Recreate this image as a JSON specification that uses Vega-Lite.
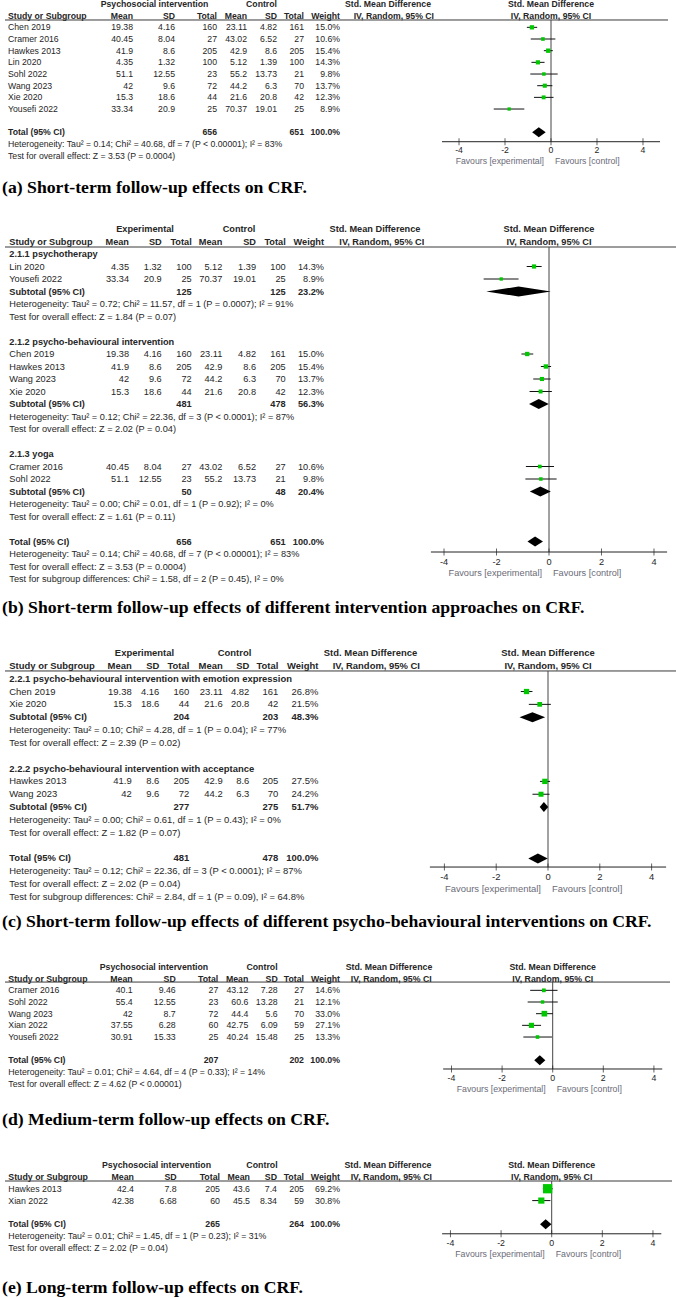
{
  "$schema": "https://vega.github.io/schema/vega-lite/v6.json",
  "width": 676,
  "height": 1298,
  "autosize": {"type": "none"},
  "padding": 0,
  "background": "white",
  "config": {
    "view": {"stroke": null},
    "font": "Liberation Sans",
    "axis": {"disable": true},
    "legend": {"disable": true},
    "text": {"color": "#262626"}
  },
  "datasets": {
    "hPsy": [
      {"r": 0, "c": 10, "t": "Psychosocial intervention"}, {"r": 0, "c": 11, "t": "Control"}, {"r": 0, "c": 12, "t": "Std. Mean Difference"},
      {"r": 1, "c": 1, "t": "Study or Subgroup"}, {"r": 1, "c": 2, "t": "Mean"}, {"r": 1, "c": 3, "t": "SD"}, {"r": 1, "c": 4, "t": "Total"},
      {"r": 1, "c": 5, "t": "Mean"}, {"r": 1, "c": 6, "t": "SD"}, {"r": 1, "c": 7, "t": "Total"}, {"r": 1, "c": 8, "t": "Weight"}, {"r": 1, "c": 9, "t": "IV, Random, 95% CI"}
    ],
    "hExp": [
      {"r": 0, "c": 10, "t": "Experimental"}, {"r": 0, "c": 11, "t": "Control"}, {"r": 0, "c": 12, "t": "Std. Mean Difference"},
      {"r": 1, "c": 1, "t": "Study or Subgroup"}, {"r": 1, "c": 2, "t": "Mean"}, {"r": 1, "c": 3, "t": "SD"}, {"r": 1, "c": 4, "t": "Total"},
      {"r": 1, "c": 5, "t": "Mean"}, {"r": 1, "c": 6, "t": "SD"}, {"r": 1, "c": 7, "t": "Total"}, {"r": 1, "c": 8, "t": "Weight"}, {"r": 1, "c": 9, "t": "IV, Random, 95% CI"}
    ],
    "fh": [{"r": 0, "t": "Std. Mean Difference"}, {"r": 1, "t": "IV, Random, 95% CI"}],
    "fav": [{"t": "Favours [experimental]", "side": "exp"}, {"t": "Favours [control]", "side": "ctrl"}],
    "ticks": [{"v": -4}, {"v": -2}, {"v": 0}, {"v": 2}, {"v": 4}],
    "one": [{}],
    "cap": [
      {"p": "a", "t": "(a) Short-term follow-up effects on CRF."},
      {"p": "b", "t": "(b) Short-term follow-up effects of different intervention approaches on CRF."},
      {"p": "c", "t": "(c) Short-term follow-up effects of different psycho-behavioural interventions on CRF."},
      {"p": "d", "t": "(d) Medium-term follow-up effects on CRF."},
      {"p": "e", "t": "(e) Long-term follow-up effects on CRF."}
    ],
    "a": [
      {"r": 2, "k": "study", "name": "Chen 2019", "m1": 19.38, "sd1": 4.16, "n1": 160, "m2": 23.11, "sd2": 4.82, "n2": 161, "w": 0.150, "ci": "-0.83 [-1.05, -0.60]", "smd": -0.83, "lo": -1.05, "hi": -0.60},
      {"r": 3, "k": "study", "name": "Cramer 2016", "m1": 40.45, "sd1": 8.04, "n1": 27, "m2": 43.02, "sd2": 6.52, "n2": 27, "w": 0.106, "ci": "-0.35 [-0.88, 0.19]", "smd": -0.35, "lo": -0.88, "hi": 0.19},
      {"r": 4, "k": "study", "name": "Hawkes 2013", "m1": 41.9, "sd1": 8.6, "n1": 205, "m2": 42.9, "sd2": 8.6, "n2": 205, "w": 0.154, "ci": "-0.12 [-0.31, 0.08]", "smd": -0.12, "lo": -0.31, "hi": 0.08},
      {"r": 5, "k": "study", "name": "Lin 2020", "m1": 4.35, "sd1": 1.32, "n1": 100, "m2": 5.12, "sd2": 1.39, "n2": 100, "w": 0.143, "ci": "-0.57 [-0.85, -0.28]", "smd": -0.57, "lo": -0.85, "hi": -0.28},
      {"r": 6, "k": "study", "name": "Sohl 2022", "m1": 51.1, "sd1": 12.55, "n1": 23, "m2": 55.2, "sd2": 13.73, "n2": 21, "w": 0.098, "ci": "-0.31 [-0.90, 0.29]", "smd": -0.31, "lo": -0.90, "hi": 0.29},
      {"r": 7, "k": "study", "name": "Wang 2023", "m1": 42, "sd1": 9.6, "n1": 72, "m2": 44.2, "sd2": 6.3, "n2": 70, "w": 0.137, "ci": "-0.27 [-0.60, 0.06]", "smd": -0.27, "lo": -0.60, "hi": 0.06},
      {"r": 8, "k": "study", "name": "Xie 2020", "m1": 15.3, "sd1": 18.6, "n1": 44, "m2": 21.6, "sd2": 20.8, "n2": 42, "w": 0.123, "ci": "-0.32 [-0.74, 0.11]", "smd": -0.32, "lo": -0.74, "hi": 0.11},
      {"r": 9, "k": "study", "name": "Yousefi 2022", "m1": 33.34, "sd1": 20.9, "n1": 25, "m2": 70.37, "sd2": 19.01, "n2": 25, "w": 0.089, "ci": "-1.82 [-2.49, -1.16]", "smd": -1.82, "lo": -2.49, "hi": -1.16},
      {"r": 11, "k": "total", "name": "Total (95% CI)", "n1": 656, "n2": 651, "w": 1, "ci": "-0.53 [-0.82, -0.23]", "smd": -0.53, "lo": -0.82, "hi": -0.23},
      {"r": 12, "k": "note", "name": "Heterogeneity: Tau² = 0.14; Chi² = 40.68, df = 7 (P < 0.00001); I² = 83%"},
      {"r": 13, "k": "note", "name": "Test for overall effect: Z = 3.53 (P = 0.0004)"}
    ],
    "b": [
      {"r": 2, "k": "group", "name": "2.1.1 psychotherapy"},
      {"r": 3, "k": "study", "name": "Lin 2020", "m1": 4.35, "sd1": 1.32, "n1": 100, "m2": 5.12, "sd2": 1.39, "n2": 100, "w": 0.143, "ci": "-0.57 [-0.85, -0.28]", "smd": -0.57, "lo": -0.85, "hi": -0.28},
      {"r": 4, "k": "study", "name": "Yousefi 2022", "m1": 33.34, "sd1": 20.9, "n1": 25, "m2": 70.37, "sd2": 19.01, "n2": 25, "w": 0.089, "ci": "-1.82 [-2.49, -1.16]", "smd": -1.82, "lo": -2.49, "hi": -1.16},
      {"r": 5, "k": "sub", "name": "Subtotal (95% CI)", "n1": 125, "n2": 125, "w": 0.232, "ci": "-1.16 [-2.39, 0.07]", "smd": -1.16, "lo": -2.39, "hi": 0.07},
      {"r": 6, "k": "note", "name": "Heterogeneity: Tau² = 0.72; Chi² = 11.57, df = 1 (P = 0.0007); I² = 91%"},
      {"r": 7, "k": "note", "name": "Test for overall effect: Z = 1.84 (P = 0.07)"},
      {"r": 9, "k": "group", "name": "2.1.2 psycho-behavioural intervention"},
      {"r": 10, "k": "study", "name": "Chen 2019", "m1": 19.38, "sd1": 4.16, "n1": 160, "m2": 23.11, "sd2": 4.82, "n2": 161, "w": 0.150, "ci": "-0.83 [-1.05, -0.60]", "smd": -0.83, "lo": -1.05, "hi": -0.60},
      {"r": 11, "k": "study", "name": "Hawkes 2013", "m1": 41.9, "sd1": 8.6, "n1": 205, "m2": 42.9, "sd2": 8.6, "n2": 205, "w": 0.154, "ci": "-0.12 [-0.31, 0.08]", "smd": -0.12, "lo": -0.31, "hi": 0.08},
      {"r": 12, "k": "study", "name": "Wang 2023", "m1": 42, "sd1": 9.6, "n1": 72, "m2": 44.2, "sd2": 6.3, "n2": 70, "w": 0.137, "ci": "-0.27 [-0.60, 0.06]", "smd": -0.27, "lo": -0.60, "hi": 0.06},
      {"r": 13, "k": "study", "name": "Xie 2020", "m1": 15.3, "sd1": 18.6, "n1": 44, "m2": 21.6, "sd2": 20.8, "n2": 42, "w": 0.123, "ci": "-0.32 [-0.74, 0.11]", "smd": -0.32, "lo": -0.74, "hi": 0.11},
      {"r": 14, "k": "sub", "name": "Subtotal (95% CI)", "n1": 481, "n2": 478, "w": 0.563, "ci": "-0.39 [-0.76, -0.01]", "smd": -0.39, "lo": -0.76, "hi": -0.01},
      {"r": 15, "k": "note", "name": "Heterogeneity: Tau² = 0.12; Chi² = 22.36, df = 3 (P < 0.0001); I² = 87%"},
      {"r": 16, "k": "note", "name": "Test for overall effect: Z = 2.02 (P = 0.04)"},
      {"r": 18, "k": "group", "name": "2.1.3 yoga"},
      {"r": 19, "k": "study", "name": "Cramer 2016", "m1": 40.45, "sd1": 8.04, "n1": 27, "m2": 43.02, "sd2": 6.52, "n2": 27, "w": 0.106, "ci": "-0.35 [-0.88, 0.19]", "smd": -0.35, "lo": -0.88, "hi": 0.19},
      {"r": 20, "k": "study", "name": "Sohl 2022", "m1": 51.1, "sd1": 12.55, "n1": 23, "m2": 55.2, "sd2": 13.73, "n2": 21, "w": 0.098, "ci": "-0.31 [-0.90, 0.29]", "smd": -0.31, "lo": -0.90, "hi": 0.29},
      {"r": 21, "k": "sub", "name": "Subtotal (95% CI)", "n1": 50, "n2": 48, "w": 0.204, "ci": "-0.33 [-0.73, 0.07]", "smd": -0.33, "lo": -0.73, "hi": 0.07},
      {"r": 22, "k": "note", "name": "Heterogeneity: Tau² = 0.00; Chi² = 0.01, df = 1 (P = 0.92); I² = 0%"},
      {"r": 23, "k": "note", "name": "Test for overall effect: Z = 1.61 (P = 0.11)"},
      {"r": 25, "k": "total", "name": "Total (95% CI)", "n1": 656, "n2": 651, "w": 1, "ci": "-0.53 [-0.82, -0.23]", "smd": -0.53, "lo": -0.82, "hi": -0.23},
      {"r": 26, "k": "note", "name": "Heterogeneity: Tau² = 0.14; Chi² = 40.68, df = 7 (P < 0.00001); I² = 83%"},
      {"r": 27, "k": "note", "name": "Test for overall effect: Z = 3.53 (P = 0.0004)"},
      {"r": 28, "k": "note", "name": "Test for subgroup differences: Chi² = 1.58, df = 2 (P = 0.45), I² = 0%"}
    ],
    "c": [
      {"r": 2, "k": "group", "name": "2.2.1 psycho-behavioural intervention with emotion expression"},
      {"r": 3, "k": "study", "name": "Chen 2019", "m1": 19.38, "sd1": 4.16, "n1": 160, "m2": 23.11, "sd2": 4.82, "n2": 161, "w": 0.268, "ci": "-0.83 [-1.05, -0.60]", "smd": -0.83, "lo": -1.05, "hi": -0.60},
      {"r": 4, "k": "study", "name": "Xie 2020", "m1": 15.3, "sd1": 18.6, "n1": 44, "m2": 21.6, "sd2": 20.8, "n2": 42, "w": 0.215, "ci": "-0.32 [-0.74, 0.11]", "smd": -0.32, "lo": -0.74, "hi": 0.11},
      {"r": 5, "k": "sub", "name": "Subtotal (95% CI)", "n1": 204, "n2": 203, "w": 0.483, "ci": "-0.60 [-1.10, -0.11]", "smd": -0.60, "lo": -1.10, "hi": -0.11},
      {"r": 6, "k": "note", "name": "Heterogeneity: Tau² = 0.10; Chi² = 4.28, df = 1 (P = 0.04); I² = 77%"},
      {"r": 7, "k": "note", "name": "Test for overall effect: Z = 2.39 (P = 0.02)"},
      {"r": 9, "k": "group", "name": "2.2.2 psycho-behavioural intervention with acceptance"},
      {"r": 10, "k": "study", "name": "Hawkes 2013", "m1": 41.9, "sd1": 8.6, "n1": 205, "m2": 42.9, "sd2": 8.6, "n2": 205, "w": 0.275, "ci": "-0.12 [-0.31, 0.08]", "smd": -0.12, "lo": -0.31, "hi": 0.08},
      {"r": 11, "k": "study", "name": "Wang 2023", "m1": 42, "sd1": 9.6, "n1": 72, "m2": 44.2, "sd2": 6.3, "n2": 70, "w": 0.242, "ci": "-0.27 [-0.60, 0.06]", "smd": -0.27, "lo": -0.60, "hi": 0.06},
      {"r": 12, "k": "sub", "name": "Subtotal (95% CI)", "n1": 277, "n2": 275, "w": 0.517, "ci": "-0.16 [-0.32, 0.01]", "smd": -0.16, "lo": -0.32, "hi": 0.01},
      {"r": 13, "k": "note", "name": "Heterogeneity: Tau² = 0.00; Chi² = 0.61, df = 1 (P = 0.43); I² = 0%"},
      {"r": 14, "k": "note", "name": "Test for overall effect: Z = 1.82 (P = 0.07)"},
      {"r": 16, "k": "total", "name": "Total (95% CI)", "n1": 481, "n2": 478, "w": 1, "ci": "-0.39 [-0.76, -0.01]", "smd": -0.39, "lo": -0.76, "hi": -0.01},
      {"r": 17, "k": "note", "name": "Heterogeneity: Tau² = 0.12; Chi² = 22.36, df = 3 (P < 0.0001); I² = 87%"},
      {"r": 18, "k": "note", "name": "Test for overall effect: Z = 2.02 (P = 0.04)"},
      {"r": 19, "k": "note", "name": "Test for subgroup differences: Chi² = 2.84, df = 1 (P = 0.09), I² = 64.8%"}
    ],
    "d": [
      {"r": 2, "k": "study", "name": "Cramer 2016", "m1": 40.1, "sd1": 9.46, "n1": 27, "m2": 43.12, "sd2": 7.28, "n2": 27, "w": 0.146, "ci": "-0.35 [-0.89, 0.19]", "smd": -0.35, "lo": -0.89, "hi": 0.19},
      {"r": 3, "k": "study", "name": "Sohl 2022", "m1": 55.4, "sd1": 12.55, "n1": 23, "m2": 60.6, "sd2": 13.28, "n2": 21, "w": 0.121, "ci": "-0.40 [-0.99, 0.20]", "smd": -0.40, "lo": -0.99, "hi": 0.20},
      {"r": 4, "k": "study", "name": "Wang 2023", "m1": 42, "sd1": 8.7, "n1": 72, "m2": 44.4, "sd2": 5.6, "n2": 70, "w": 0.330, "ci": "-0.33 [-0.66, 0.01]", "smd": -0.33, "lo": -0.66, "hi": 0.01},
      {"r": 5, "k": "study", "name": "Xian 2022", "m1": 37.55, "sd1": 6.28, "n1": 60, "m2": 42.75, "sd2": 6.09, "n2": 59, "w": 0.271, "ci": "-0.84 [-1.21, -0.46]", "smd": -0.84, "lo": -1.21, "hi": -0.46},
      {"r": 6, "k": "study", "name": "Yousefi 2022", "m1": 30.91, "sd1": 15.33, "n1": 25, "m2": 40.24, "sd2": 15.48, "n2": 25, "w": 0.133, "ci": "-0.60 [-1.16, -0.03]", "smd": -0.60, "lo": -1.16, "hi": -0.03},
      {"r": 8, "k": "total", "name": "Total (95% CI)", "n1": 207, "n2": 202, "w": 1, "ci": "-0.51 [-0.73, -0.29]", "smd": -0.51, "lo": -0.73, "hi": -0.29},
      {"r": 9, "k": "note", "name": "Heterogeneity: Tau² = 0.01; Chi² = 4.64, df = 4 (P = 0.33); I² = 14%"},
      {"r": 10, "k": "note", "name": "Test for overall effect: Z = 4.62 (P < 0.00001)"}
    ],
    "e": [
      {"r": 2, "k": "study", "name": "Hawkes 2013", "m1": 42.4, "sd1": 7.8, "n1": 205, "m2": 43.6, "sd2": 7.4, "n2": 205, "w": 0.692, "ci": "-0.16 [-0.35, 0.04]", "smd": -0.16, "lo": -0.35, "hi": 0.04},
      {"r": 3, "k": "study", "name": "Xian 2022", "m1": 42.38, "sd1": 6.68, "n1": 60, "m2": 45.5, "sd2": 8.34, "n2": 59, "w": 0.308, "ci": "-0.41 [-0.77, -0.05]", "smd": -0.41, "lo": -0.77, "hi": -0.05},
      {"r": 5, "k": "total", "name": "Total (95% CI)", "n1": 265, "n2": 264, "w": 1, "ci": "-0.24 [-0.46, -0.01]", "smd": -0.24, "lo": -0.46, "hi": -0.01},
      {"r": 6, "k": "note", "name": "Heterogeneity: Tau² = 0.01; Chi² = 1.45, df = 1 (P = 0.23); I² = 31%"},
      {"r": 7, "k": "note", "name": "Test for overall effect: Z = 2.02 (P = 0.04)"}
    ]
  },
  "resolve": {"scale": {"x": "independent", "y": "independent", "size": "independent"}},
  "layer": [
    {
      "data": {"name": "a"},
      "resolve": {"scale": {"x": "independent"}},
      "layer": [
        {
          "layer": [
            {"data": {"name": "hPsy"}, "mark": {"type": "text", "fontSize": 8.7, "fontWeight": "bold", "baseline": "middle", "align": {"expr": "datum.c == 1 ? 'left' : datum.c >= 10 ? 'center' : 'right'"}},
             "encoding": {"x": {"field": "c", "type": "quantitative", "scale": {"domain": [0,1,2,3,4,5,6,7,8,9,10,11,12,13], "range": [5,8,133,175,217,247,277,304,340,434,154.5,261.5,388,668], "zero": false, "nice": false}},
                          "y": {"field": "r", "type": "quantitative", "scale": {"domain": [0, 20], "range": [4, 237.4], "zero": false, "nice": false}},
                          "text": {"field": "t"}}},
            {"data": {"name": "one"}, "mark": {"type": "rule", "color": "#3a3a3a"}, "encoding": {"x": {"datum": 0, "type": "quantitative"}, "x2": {"datum": 13}, "y": {"datum": 1.37, "type": "quantitative"}}},
            {"mark": {"type": "text", "fontSize": 8.7, "baseline": "middle", "align": "left", "fontWeight": {"expr": "datum.k == 'study' || datum.k == 'note' ? 'normal' : 'bold'"}}, "encoding": {"x": {"datum": 1, "type": "quantitative"}, "y": {"field": "r", "type": "quantitative"}, "text": {"field": "name"}}},
            {"transform": [{"filter": {"field": "m1", "valid": true}}], "mark": {"type": "text", "fontSize": 8.7, "baseline": "middle", "align": "right"}, "encoding": {"x": {"datum": 2, "type": "quantitative"}, "y": {"field": "r", "type": "quantitative"}, "text": {"field": "m1", "type": "nominal"}}},
            {"transform": [{"filter": {"field": "sd1", "valid": true}}], "mark": {"type": "text", "fontSize": 8.7, "baseline": "middle", "align": "right"}, "encoding": {"x": {"datum": 3, "type": "quantitative"}, "y": {"field": "r", "type": "quantitative"}, "text": {"field": "sd1", "type": "nominal"}}},
            {"transform": [{"filter": {"field": "n1", "valid": true}}], "mark": {"type": "text", "fontSize": 8.7, "baseline": "middle", "align": "right", "fontWeight": {"expr": "datum.k == 'study' || datum.k == 'note' ? 'normal' : 'bold'"}}, "encoding": {"x": {"datum": 4, "type": "quantitative"}, "y": {"field": "r", "type": "quantitative"}, "text": {"field": "n1", "type": "nominal"}}},
            {"transform": [{"filter": {"field": "m2", "valid": true}}], "mark": {"type": "text", "fontSize": 8.7, "baseline": "middle", "align": "right"}, "encoding": {"x": {"datum": 5, "type": "quantitative"}, "y": {"field": "r", "type": "quantitative"}, "text": {"field": "m2", "type": "nominal"}}},
            {"transform": [{"filter": {"field": "sd2", "valid": true}}], "mark": {"type": "text", "fontSize": 8.7, "baseline": "middle", "align": "right"}, "encoding": {"x": {"datum": 6, "type": "quantitative"}, "y": {"field": "r", "type": "quantitative"}, "text": {"field": "sd2", "type": "nominal"}}},
            {"transform": [{"filter": {"field": "n2", "valid": true}}], "mark": {"type": "text", "fontSize": 8.7, "baseline": "middle", "align": "right", "fontWeight": {"expr": "datum.k == 'study' || datum.k == 'note' ? 'normal' : 'bold'"}}, "encoding": {"x": {"datum": 7, "type": "quantitative"}, "y": {"field": "r", "type": "quantitative"}, "text": {"field": "n2", "type": "nominal"}}},
            {"transform": [{"filter": {"field": "w", "valid": true}}], "mark": {"type": "text", "fontSize": 8.7, "baseline": "middle", "align": "right", "fontWeight": {"expr": "datum.k == 'study' || datum.k == 'note' ? 'normal' : 'bold'"}}, "encoding": {"x": {"datum": 8, "type": "quantitative"}, "y": {"field": "r", "type": "quantitative"}, "text": {"field": "w", "type": "quantitative", "format": ".1%"}}},
            {"transform": [{"filter": {"field": "ci", "valid": true}}], "mark": {"type": "text", "fontSize": 8.7, "baseline": "middle", "align": "right", "fontWeight": {"expr": "datum.k == 'study' || datum.k == 'note' ? 'normal' : 'bold'"}}, "encoding": {"x": {"datum": 9, "type": "quantitative"}, "y": {"field": "r", "type": "quantitative"}, "text": {"field": "ci"}}},
            {"data": {"name": "cap"}, "transform": [{"filter": "datum.p == 'a'"}], "mark": {"type": "text", "font": "Liberation Serif", "fontSize": 17.7, "fontWeight": "bold", "color": "#000", "align": "left", "baseline": "middle", "dx": -3}, "encoding": {"x": {"datum": 0, "type": "quantitative"}, "y": {"datum": 15.77, "type": "quantitative"}, "text": {"field": "t"}}}
          ]
        },
        {
          "layer": [
            {"data": {"name": "fh"}, "mark": {"type": "text", "fontSize": 8.7, "fontWeight": "bold", "align": "center", "baseline": "middle"}, "encoding": {"x": {"datum": 0, "type": "quantitative", "scale": {"domain": [-4.74, 4.74], "range": [442, 660], "zero": false, "nice": false}}, "y": {"field": "r", "type": "quantitative"}, "text": {"field": "t"}}},
            {"data": {"name": "one"}, "mark": {"type": "rule", "color": "#444"}, "encoding": {"x": {"datum": 0, "type": "quantitative"}, "y": {"datum": 1.37, "type": "quantitative"}, "y2": {"datum": 11.8}}},
            {"transform": [{"filter": "datum.k == 'study'"}], "mark": {"type": "rule", "color": "#111"}, "encoding": {"x": {"field": "lo", "type": "quantitative"}, "x2": {"field": "hi"}, "y": {"field": "r", "type": "quantitative"}}},
            {"transform": [{"filter": "datum.k == 'study'"}], "mark": {"type": "point", "shape": "square", "filled": true, "color": "#00c800", "opacity": 1}, "encoding": {"x": {"field": "smd", "type": "quantitative"}, "y": {"field": "r", "type": "quantitative"}, "size": {"field": "w", "type": "quantitative", "scale": {"domain": [0, 1], "range": [0, 123]}, "legend": null}}},
            {"transform": [{"filter": "datum.k == 'sub' || datum.k == 'total'"}, {"fold": ["lo", "smd", "hi"], "as": ["key", "xv"]}], "mark": {"type": "area", "orient": "vertical", "color": "#000", "opacity": 1, "yOffset": {"expr": "datum.key == 'smd' ? -5 : 0"}, "y2Offset": {"expr": "datum.key == 'smd' ? 5 : 0"}}, "encoding": {"x": {"field": "xv", "type": "quantitative"}, "y": {"field": "r", "type": "quantitative"}, "y2": {"field": "r"}, "detail": {"field": "r"}}},
            {"data": {"name": "one"}, "mark": {"type": "rule", "color": "#222"}, "encoding": {"x": {"datum": -4.74, "type": "quantitative"}, "x2": {"datum": 4.74}, "y": {"datum": 11.8, "type": "quantitative"}}},
            {"data": {"name": "ticks"}, "mark": {"type": "tick", "orient": "vertical", "color": "#222", "size": 7, "thickness": 1}, "encoding": {"x": {"field": "v", "type": "quantitative"}, "y": {"datum": 11.8, "type": "quantitative"}}},
            {"data": {"name": "ticks"}, "mark": {"type": "text", "fontSize": 8.7, "align": "center", "baseline": "middle"}, "encoding": {"x": {"field": "v", "type": "quantitative"}, "y": {"datum": 12.51, "type": "quantitative"}, "text": {"field": "v", "type": "nominal"}}},
            {"data": {"name": "fav"}, "mark": {"type": "text", "fontSize": 8.7, "baseline": "middle", "color": "#6b6b78", "align": {"expr": "datum.side == 'exp' ? 'right' : 'left'"}, "dx": {"expr": "datum.side == 'exp' ? -7 : 4"}}, "encoding": {"x": {"datum": 0, "type": "quantitative"}, "y": {"datum": 13.45, "type": "quantitative"}, "text": {"field": "t"}}}
          ]
        }
      ]
    },
    {
      "data": {"name": "b"},
      "resolve": {"scale": {"x": "independent"}},
      "layer": [
        {
          "layer": [
            {"data": {"name": "hExp"}, "mark": {"type": "text", "fontSize": 9.2, "fontWeight": "bold", "baseline": "middle", "align": {"expr": "datum.c == 1 ? 'left' : datum.c >= 10 ? 'center' : 'right'"}},
             "encoding": {"x": {"field": "c", "type": "quantitative", "scale": {"domain": [0,1,2,3,4,5,6,7,8,9,10,11,12,13], "range": [5,9.3,129,161.7,191.7,222.3,256,285.7,324,424.3,145,239,375,676], "zero": false, "nice": false}},
                          "y": {"field": "r", "type": "quantitative", "scale": {"domain": [0, 35], "range": [229, 666.5], "zero": false, "nice": false}},
                          "text": {"field": "t"}}},
            {"data": {"name": "one"}, "mark": {"type": "rule", "color": "#3a3a3a"}, "encoding": {"x": {"datum": 0, "type": "quantitative"}, "x2": {"datum": 13}, "y": {"datum": 1.44, "type": "quantitative"}}},
            {"mark": {"type": "text", "fontSize": 9.2, "baseline": "middle", "align": "left", "fontWeight": {"expr": "datum.k == 'study' || datum.k == 'note' ? 'normal' : 'bold'"}}, "encoding": {"x": {"datum": 1, "type": "quantitative"}, "y": {"field": "r", "type": "quantitative"}, "text": {"field": "name"}}},
            {"transform": [{"filter": {"field": "m1", "valid": true}}], "mark": {"type": "text", "fontSize": 9.2, "baseline": "middle", "align": "right"}, "encoding": {"x": {"datum": 2, "type": "quantitative"}, "y": {"field": "r", "type": "quantitative"}, "text": {"field": "m1", "type": "nominal"}}},
            {"transform": [{"filter": {"field": "sd1", "valid": true}}], "mark": {"type": "text", "fontSize": 9.2, "baseline": "middle", "align": "right"}, "encoding": {"x": {"datum": 3, "type": "quantitative"}, "y": {"field": "r", "type": "quantitative"}, "text": {"field": "sd1", "type": "nominal"}}},
            {"transform": [{"filter": {"field": "n1", "valid": true}}], "mark": {"type": "text", "fontSize": 9.2, "baseline": "middle", "align": "right", "fontWeight": {"expr": "datum.k == 'study' || datum.k == 'note' ? 'normal' : 'bold'"}}, "encoding": {"x": {"datum": 4, "type": "quantitative"}, "y": {"field": "r", "type": "quantitative"}, "text": {"field": "n1", "type": "nominal"}}},
            {"transform": [{"filter": {"field": "m2", "valid": true}}], "mark": {"type": "text", "fontSize": 9.2, "baseline": "middle", "align": "right"}, "encoding": {"x": {"datum": 5, "type": "quantitative"}, "y": {"field": "r", "type": "quantitative"}, "text": {"field": "m2", "type": "nominal"}}},
            {"transform": [{"filter": {"field": "sd2", "valid": true}}], "mark": {"type": "text", "fontSize": 9.2, "baseline": "middle", "align": "right"}, "encoding": {"x": {"datum": 6, "type": "quantitative"}, "y": {"field": "r", "type": "quantitative"}, "text": {"field": "sd2", "type": "nominal"}}},
            {"transform": [{"filter": {"field": "n2", "valid": true}}], "mark": {"type": "text", "fontSize": 9.2, "baseline": "middle", "align": "right", "fontWeight": {"expr": "datum.k == 'study' || datum.k == 'note' ? 'normal' : 'bold'"}}, "encoding": {"x": {"datum": 7, "type": "quantitative"}, "y": {"field": "r", "type": "quantitative"}, "text": {"field": "n2", "type": "nominal"}}},
            {"transform": [{"filter": {"field": "w", "valid": true}}], "mark": {"type": "text", "fontSize": 9.2, "baseline": "middle", "align": "right", "fontWeight": {"expr": "datum.k == 'study' || datum.k == 'note' ? 'normal' : 'bold'"}}, "encoding": {"x": {"datum": 8, "type": "quantitative"}, "y": {"field": "r", "type": "quantitative"}, "text": {"field": "w", "type": "quantitative", "format": ".1%"}}},
            {"transform": [{"filter": {"field": "ci", "valid": true}}], "mark": {"type": "text", "fontSize": 9.2, "baseline": "middle", "align": "right", "fontWeight": {"expr": "datum.k == 'study' || datum.k == 'note' ? 'normal' : 'bold'"}}, "encoding": {"x": {"datum": 9, "type": "quantitative"}, "y": {"field": "r", "type": "quantitative"}, "text": {"field": "ci"}}},
            {"data": {"name": "cap"}, "transform": [{"filter": "datum.p == 'b'"}], "mark": {"type": "text", "font": "Liberation Serif", "fontSize": 17.7, "fontWeight": "bold", "color": "#000", "align": "left", "baseline": "middle", "dx": -3}, "encoding": {"x": {"datum": 0, "type": "quantitative"}, "y": {"datum": 30.32, "type": "quantitative"}, "text": {"field": "t"}}}
          ]
        },
        {
          "layer": [
            {"data": {"name": "fh"}, "mark": {"type": "text", "fontSize": 9.2, "fontWeight": "bold", "align": "center", "baseline": "middle"}, "encoding": {"x": {"datum": 0, "type": "quantitative", "scale": {"domain": [-4.5, 4.5], "range": [430.9, 667.1], "zero": false, "nice": false}}, "y": {"field": "r", "type": "quantitative"}, "text": {"field": "t"}}},
            {"data": {"name": "one"}, "mark": {"type": "rule", "color": "#444"}, "encoding": {"x": {"datum": 0, "type": "quantitative"}, "y": {"datum": 1.44, "type": "quantitative"}, "y2": {"datum": 25.84}}},
            {"transform": [{"filter": "datum.k == 'study'"}], "mark": {"type": "rule", "color": "#111"}, "encoding": {"x": {"field": "lo", "type": "quantitative"}, "x2": {"field": "hi"}, "y": {"field": "r", "type": "quantitative"}}},
            {"transform": [{"filter": "datum.k == 'study'"}], "mark": {"type": "point", "shape": "square", "filled": true, "color": "#00c800", "opacity": 1}, "encoding": {"x": {"field": "smd", "type": "quantitative"}, "y": {"field": "r", "type": "quantitative"}, "size": {"field": "w", "type": "quantitative", "scale": {"domain": [0, 1], "range": [0, 125]}, "legend": null}}},
            {"transform": [{"filter": "datum.k == 'sub' || datum.k == 'total'"}, {"fold": ["lo", "smd", "hi"], "as": ["key", "xv"]}], "mark": {"type": "area", "orient": "vertical", "color": "#000", "opacity": 1, "yOffset": {"expr": "datum.key == 'smd' ? -5 : 0"}, "y2Offset": {"expr": "datum.key == 'smd' ? 5 : 0"}}, "encoding": {"x": {"field": "xv", "type": "quantitative"}, "y": {"field": "r", "type": "quantitative"}, "y2": {"field": "r"}, "detail": {"field": "r"}}},
            {"data": {"name": "one"}, "mark": {"type": "rule", "color": "#222"}, "encoding": {"x": {"datum": -4.5, "type": "quantitative"}, "x2": {"datum": 4.5}, "y": {"datum": 25.84, "type": "quantitative"}}},
            {"data": {"name": "ticks"}, "mark": {"type": "tick", "orient": "vertical", "color": "#222", "size": 7, "thickness": 1}, "encoding": {"x": {"field": "v", "type": "quantitative"}, "y": {"datum": 25.84, "type": "quantitative"}}},
            {"data": {"name": "ticks"}, "mark": {"type": "text", "fontSize": 9.2, "align": "center", "baseline": "middle"}, "encoding": {"x": {"field": "v", "type": "quantitative"}, "y": {"datum": 26.64, "type": "quantitative"}, "text": {"field": "v", "type": "nominal"}}},
            {"data": {"name": "fav"}, "mark": {"type": "text", "fontSize": 9.2, "baseline": "middle", "color": "#6b6b78", "align": {"expr": "datum.side == 'exp' ? 'right' : 'left'"}, "dx": {"expr": "datum.side == 'exp' ? -7 : 4"}}, "encoding": {"x": {"datum": 0, "type": "quantitative"}, "y": {"datum": 27.52, "type": "quantitative"}, "text": {"field": "t"}}}
          ]
        }
      ]
    },
    {
      "data": {"name": "c"},
      "resolve": {"scale": {"x": "independent"}},
      "layer": [
        {
          "layer": [
            {"data": {"name": "hExp"}, "mark": {"type": "text", "fontSize": 9.45, "fontWeight": "bold", "baseline": "middle", "align": {"expr": "datum.c == 1 ? 'left' : datum.c >= 10 ? 'center' : 'right'"}},
             "encoding": {"x": {"field": "c", "type": "quantitative", "scale": {"domain": [0,1,2,3,4,5,6,7,8,9,10,11,12,13], "range": [5,9.3,131.7,159.3,189.3,222.7,249.3,278.3,318.3,420,144.5,234.5,370.5,676], "zero": false, "nice": false}},
                          "y": {"field": "r", "type": "quantitative", "scale": {"domain": [0, 25], "range": [653, 974], "zero": false, "nice": false}},
                          "text": {"field": "t"}}},
            {"data": {"name": "one"}, "mark": {"type": "rule", "color": "#3a3a3a"}, "encoding": {"x": {"datum": 0, "type": "quantitative"}, "x2": {"datum": 13}, "y": {"datum": 1.4, "type": "quantitative"}}},
            {"mark": {"type": "text", "fontSize": 9.45, "baseline": "middle", "align": "left", "fontWeight": {"expr": "datum.k == 'study' || datum.k == 'note' ? 'normal' : 'bold'"}}, "encoding": {"x": {"datum": 1, "type": "quantitative"}, "y": {"field": "r", "type": "quantitative"}, "text": {"field": "name"}}},
            {"transform": [{"filter": {"field": "m1", "valid": true}}], "mark": {"type": "text", "fontSize": 9.45, "baseline": "middle", "align": "right"}, "encoding": {"x": {"datum": 2, "type": "quantitative"}, "y": {"field": "r", "type": "quantitative"}, "text": {"field": "m1", "type": "nominal"}}},
            {"transform": [{"filter": {"field": "sd1", "valid": true}}], "mark": {"type": "text", "fontSize": 9.45, "baseline": "middle", "align": "right"}, "encoding": {"x": {"datum": 3, "type": "quantitative"}, "y": {"field": "r", "type": "quantitative"}, "text": {"field": "sd1", "type": "nominal"}}},
            {"transform": [{"filter": {"field": "n1", "valid": true}}], "mark": {"type": "text", "fontSize": 9.45, "baseline": "middle", "align": "right", "fontWeight": {"expr": "datum.k == 'study' || datum.k == 'note' ? 'normal' : 'bold'"}}, "encoding": {"x": {"datum": 4, "type": "quantitative"}, "y": {"field": "r", "type": "quantitative"}, "text": {"field": "n1", "type": "nominal"}}},
            {"transform": [{"filter": {"field": "m2", "valid": true}}], "mark": {"type": "text", "fontSize": 9.45, "baseline": "middle", "align": "right"}, "encoding": {"x": {"datum": 5, "type": "quantitative"}, "y": {"field": "r", "type": "quantitative"}, "text": {"field": "m2", "type": "nominal"}}},
            {"transform": [{"filter": {"field": "sd2", "valid": true}}], "mark": {"type": "text", "fontSize": 9.45, "baseline": "middle", "align": "right"}, "encoding": {"x": {"datum": 6, "type": "quantitative"}, "y": {"field": "r", "type": "quantitative"}, "text": {"field": "sd2", "type": "nominal"}}},
            {"transform": [{"filter": {"field": "n2", "valid": true}}], "mark": {"type": "text", "fontSize": 9.45, "baseline": "middle", "align": "right", "fontWeight": {"expr": "datum.k == 'study' || datum.k == 'note' ? 'normal' : 'bold'"}}, "encoding": {"x": {"datum": 7, "type": "quantitative"}, "y": {"field": "r", "type": "quantitative"}, "text": {"field": "n2", "type": "nominal"}}},
            {"transform": [{"filter": {"field": "w", "valid": true}}], "mark": {"type": "text", "fontSize": 9.45, "baseline": "middle", "align": "right", "fontWeight": {"expr": "datum.k == 'study' || datum.k == 'note' ? 'normal' : 'bold'"}}, "encoding": {"x": {"datum": 8, "type": "quantitative"}, "y": {"field": "r", "type": "quantitative"}, "text": {"field": "w", "type": "quantitative", "format": ".1%"}}},
            {"transform": [{"filter": {"field": "ci", "valid": true}}], "mark": {"type": "text", "fontSize": 9.45, "baseline": "middle", "align": "right", "fontWeight": {"expr": "datum.k == 'study' || datum.k == 'note' ? 'normal' : 'bold'"}}, "encoding": {"x": {"datum": 9, "type": "quantitative"}, "y": {"field": "r", "type": "quantitative"}, "text": {"field": "ci"}}},
            {"data": {"name": "cap"}, "transform": [{"filter": "datum.p == 'c'"}], "mark": {"type": "text", "font": "Liberation Serif", "fontSize": 17.7, "fontWeight": "bold", "color": "#000", "align": "left", "baseline": "middle", "dx": -3}, "encoding": {"x": {"datum": 0, "type": "quantitative"}, "y": {"datum": 20.95, "type": "quantitative"}, "text": {"field": "t"}}}
          ]
        },
        {
          "layer": [
            {"data": {"name": "fh"}, "mark": {"type": "text", "fontSize": 9.45, "fontWeight": "bold", "align": "center", "baseline": "middle"}, "encoding": {"x": {"datum": 0, "type": "quantitative", "scale": {"domain": [-4.56, 4.56], "range": [429.9, 666.1], "zero": false, "nice": false}}, "y": {"field": "r", "type": "quantitative"}, "text": {"field": "t"}}},
            {"data": {"name": "one"}, "mark": {"type": "rule", "color": "#444"}, "encoding": {"x": {"datum": 0, "type": "quantitative"}, "y": {"datum": 1.4, "type": "quantitative"}, "y2": {"datum": 16.67}}},
            {"transform": [{"filter": "datum.k == 'study'"}], "mark": {"type": "rule", "color": "#111"}, "encoding": {"x": {"field": "lo", "type": "quantitative"}, "x2": {"field": "hi"}, "y": {"field": "r", "type": "quantitative"}}},
            {"transform": [{"filter": "datum.k == 'study'"}], "mark": {"type": "point", "shape": "square", "filled": true, "color": "#00c800", "opacity": 1}, "encoding": {"x": {"field": "smd", "type": "quantitative"}, "y": {"field": "r", "type": "quantitative"}, "size": {"field": "w", "type": "quantitative", "scale": {"domain": [0, 1], "range": [0, 104]}, "legend": null}}},
            {"transform": [{"filter": "datum.k == 'sub' || datum.k == 'total'"}, {"fold": ["lo", "smd", "hi"], "as": ["key", "xv"]}], "mark": {"type": "area", "orient": "vertical", "color": "#000", "opacity": 1, "yOffset": {"expr": "datum.key == 'smd' ? -5 : 0"}, "y2Offset": {"expr": "datum.key == 'smd' ? 5 : 0"}}, "encoding": {"x": {"field": "xv", "type": "quantitative"}, "y": {"field": "r", "type": "quantitative"}, "y2": {"field": "r"}, "detail": {"field": "r"}}},
            {"data": {"name": "one"}, "mark": {"type": "rule", "color": "#222"}, "encoding": {"x": {"datum": -4.56, "type": "quantitative"}, "x2": {"datum": 4.56}, "y": {"datum": 16.67, "type": "quantitative"}}},
            {"data": {"name": "ticks"}, "mark": {"type": "tick", "orient": "vertical", "color": "#222", "size": 7, "thickness": 1}, "encoding": {"x": {"field": "v", "type": "quantitative"}, "y": {"datum": 16.67, "type": "quantitative"}}},
            {"data": {"name": "ticks"}, "mark": {"type": "text", "fontSize": 9.45, "align": "center", "baseline": "middle"}, "encoding": {"x": {"field": "v", "type": "quantitative"}, "y": {"datum": 17.45, "type": "quantitative"}, "text": {"field": "v", "type": "nominal"}}},
            {"data": {"name": "fav"}, "mark": {"type": "text", "fontSize": 9.45, "baseline": "middle", "color": "#6b6b78", "align": {"expr": "datum.side == 'exp' ? 'right' : 'left'"}, "dx": {"expr": "datum.side == 'exp' ? -7 : 4"}}, "encoding": {"x": {"datum": 0, "type": "quantitative"}, "y": {"datum": 18.38, "type": "quantitative"}, "text": {"field": "t"}}}
          ]
        }
      ]
    },
    {
      "data": {"name": "d"},
      "resolve": {"scale": {"x": "independent"}},
      "layer": [
        {
          "layer": [
            {"data": {"name": "hPsy"}, "mark": {"type": "text", "fontSize": 8.75, "fontWeight": "bold", "baseline": "middle", "align": {"expr": "datum.c == 1 ? 'left' : datum.c >= 10 ? 'center' : 'right'"}},
             "encoding": {"x": {"field": "c", "type": "quantitative", "scale": {"domain": [0,1,2,3,4,5,6,7,8,9,10,11,12,13], "range": [5,8.3,132.7,175.7,218.3,248.3,277.7,304,340,431.7,154,262,389,670], "zero": false, "nice": false}},
                          "y": {"field": "r", "type": "quantitative", "scale": {"domain": [0, 15], "range": [967, 1142.05], "zero": false, "nice": false}},
                          "text": {"field": "t"}}},
            {"data": {"name": "one"}, "mark": {"type": "rule", "color": "#3a3a3a"}, "encoding": {"x": {"datum": 0, "type": "quantitative"}, "x2": {"datum": 13}, "y": {"datum": 1.29, "type": "quantitative"}}},
            {"mark": {"type": "text", "fontSize": 8.75, "baseline": "middle", "align": "left", "fontWeight": {"expr": "datum.k == 'study' || datum.k == 'note' ? 'normal' : 'bold'"}}, "encoding": {"x": {"datum": 1, "type": "quantitative"}, "y": {"field": "r", "type": "quantitative"}, "text": {"field": "name"}}},
            {"transform": [{"filter": {"field": "m1", "valid": true}}], "mark": {"type": "text", "fontSize": 8.75, "baseline": "middle", "align": "right"}, "encoding": {"x": {"datum": 2, "type": "quantitative"}, "y": {"field": "r", "type": "quantitative"}, "text": {"field": "m1", "type": "nominal"}}},
            {"transform": [{"filter": {"field": "sd1", "valid": true}}], "mark": {"type": "text", "fontSize": 8.75, "baseline": "middle", "align": "right"}, "encoding": {"x": {"datum": 3, "type": "quantitative"}, "y": {"field": "r", "type": "quantitative"}, "text": {"field": "sd1", "type": "nominal"}}},
            {"transform": [{"filter": {"field": "n1", "valid": true}}], "mark": {"type": "text", "fontSize": 8.75, "baseline": "middle", "align": "right", "fontWeight": {"expr": "datum.k == 'study' || datum.k == 'note' ? 'normal' : 'bold'"}}, "encoding": {"x": {"datum": 4, "type": "quantitative"}, "y": {"field": "r", "type": "quantitative"}, "text": {"field": "n1", "type": "nominal"}}},
            {"transform": [{"filter": {"field": "m2", "valid": true}}], "mark": {"type": "text", "fontSize": 8.75, "baseline": "middle", "align": "right"}, "encoding": {"x": {"datum": 5, "type": "quantitative"}, "y": {"field": "r", "type": "quantitative"}, "text": {"field": "m2", "type": "nominal"}}},
            {"transform": [{"filter": {"field": "sd2", "valid": true}}], "mark": {"type": "text", "fontSize": 8.75, "baseline": "middle", "align": "right"}, "encoding": {"x": {"datum": 6, "type": "quantitative"}, "y": {"field": "r", "type": "quantitative"}, "text": {"field": "sd2", "type": "nominal"}}},
            {"transform": [{"filter": {"field": "n2", "valid": true}}], "mark": {"type": "text", "fontSize": 8.75, "baseline": "middle", "align": "right", "fontWeight": {"expr": "datum.k == 'study' || datum.k == 'note' ? 'normal' : 'bold'"}}, "encoding": {"x": {"datum": 7, "type": "quantitative"}, "y": {"field": "r", "type": "quantitative"}, "text": {"field": "n2", "type": "nominal"}}},
            {"transform": [{"filter": {"field": "w", "valid": true}}], "mark": {"type": "text", "fontSize": 8.75, "baseline": "middle", "align": "right", "fontWeight": {"expr": "datum.k == 'study' || datum.k == 'note' ? 'normal' : 'bold'"}}, "encoding": {"x": {"datum": 8, "type": "quantitative"}, "y": {"field": "r", "type": "quantitative"}, "text": {"field": "w", "type": "quantitative", "format": ".1%"}}},
            {"transform": [{"filter": {"field": "ci", "valid": true}}], "mark": {"type": "text", "fontSize": 8.75, "baseline": "middle", "align": "right", "fontWeight": {"expr": "datum.k == 'study' || datum.k == 'note' ? 'normal' : 'bold'"}}, "encoding": {"x": {"datum": 9, "type": "quantitative"}, "y": {"field": "r", "type": "quantitative"}, "text": {"field": "ci"}}},
            {"data": {"name": "cap"}, "transform": [{"filter": "datum.p == 'd'"}], "mark": {"type": "text", "font": "Liberation Serif", "fontSize": 17.7, "fontWeight": "bold", "color": "#000", "align": "left", "baseline": "middle", "dx": -3}, "encoding": {"x": {"datum": 0, "type": "quantitative"}, "y": {"datum": 13.11, "type": "quantitative"}, "text": {"field": "t"}}}
          ]
        },
        {
          "layer": [
            {"data": {"name": "fh"}, "mark": {"type": "text", "fontSize": 8.75, "fontWeight": "bold", "align": "center", "baseline": "middle"}, "encoding": {"x": {"datum": 0, "type": "quantitative", "scale": {"domain": [-4.33, 4.33], "range": [443.15, 662.25], "zero": false, "nice": false}}, "y": {"field": "r", "type": "quantitative"}, "text": {"field": "t"}}},
            {"data": {"name": "one"}, "mark": {"type": "rule", "color": "#444"}, "encoding": {"x": {"datum": 0, "type": "quantitative"}, "y": {"datum": 1.29, "type": "quantitative"}, "y2": {"datum": 8.74}}},
            {"transform": [{"filter": "datum.k == 'study'"}], "mark": {"type": "rule", "color": "#111"}, "encoding": {"x": {"field": "lo", "type": "quantitative"}, "x2": {"field": "hi"}, "y": {"field": "r", "type": "quantitative"}}},
            {"transform": [{"filter": "datum.k == 'study'"}], "mark": {"type": "point", "shape": "square", "filled": true, "color": "#00c800", "opacity": 1}, "encoding": {"x": {"field": "smd", "type": "quantitative"}, "y": {"field": "r", "type": "quantitative"}, "size": {"field": "w", "type": "quantitative", "scale": {"domain": [0, 1], "range": [0, 97]}, "legend": null}}},
            {"transform": [{"filter": "datum.k == 'sub' || datum.k == 'total'"}, {"fold": ["lo", "smd", "hi"], "as": ["key", "xv"]}], "mark": {"type": "area", "orient": "vertical", "color": "#000", "opacity": 1, "yOffset": {"expr": "datum.key == 'smd' ? -5 : 0"}, "y2Offset": {"expr": "datum.key == 'smd' ? 5 : 0"}}, "encoding": {"x": {"field": "xv", "type": "quantitative"}, "y": {"field": "r", "type": "quantitative"}, "y2": {"field": "r"}, "detail": {"field": "r"}}},
            {"data": {"name": "one"}, "mark": {"type": "rule", "color": "#222"}, "encoding": {"x": {"datum": -4.33, "type": "quantitative"}, "x2": {"datum": 4.33}, "y": {"datum": 8.74, "type": "quantitative"}}},
            {"data": {"name": "ticks"}, "mark": {"type": "tick", "orient": "vertical", "color": "#222", "size": 7, "thickness": 1}, "encoding": {"x": {"field": "v", "type": "quantitative"}, "y": {"datum": 8.74, "type": "quantitative"}}},
            {"data": {"name": "ticks"}, "mark": {"type": "text", "fontSize": 8.75, "align": "center", "baseline": "middle"}, "encoding": {"x": {"field": "v", "type": "quantitative"}, "y": {"datum": 9.51, "type": "quantitative"}, "text": {"field": "v", "type": "nominal"}}},
            {"data": {"name": "fav"}, "mark": {"type": "text", "fontSize": 8.75, "baseline": "middle", "color": "#6b6b78", "align": {"expr": "datum.side == 'exp' ? 'right' : 'left'"}, "dx": {"expr": "datum.side == 'exp' ? -7 : 4"}}, "encoding": {"x": {"datum": 0, "type": "quantitative"}, "y": {"datum": 10.45, "type": "quantitative"}, "text": {"field": "t"}}}
          ]
        }
      ]
    },
    {
      "data": {"name": "e"},
      "resolve": {"scale": {"x": "independent"}},
      "layer": [
        {
          "layer": [
            {"data": {"name": "hPsy"}, "mark": {"type": "text", "fontSize": 8.8, "fontWeight": "bold", "baseline": "middle", "align": {"expr": "datum.c == 1 ? 'left' : datum.c >= 10 ? 'center' : 'right'"}},
             "encoding": {"x": {"field": "c", "type": "quantitative", "scale": {"domain": [0,1,2,3,4,5,6,7,8,9,10,11,12,13], "range": [5,8.3,134,176.7,220,250,277,304,340,432,156.5,262,388,672], "zero": false, "nice": false}},
                          "y": {"field": "r", "type": "quantitative", "scale": {"domain": [0, 12], "range": [1165, 1307.32], "zero": false, "nice": false}},
                          "text": {"field": "t"}}},
            {"data": {"name": "one"}, "mark": {"type": "rule", "color": "#3a3a3a"}, "encoding": {"x": {"datum": 0, "type": "quantitative"}, "x2": {"datum": 13}, "y": {"datum": 1.35, "type": "quantitative"}}},
            {"mark": {"type": "text", "fontSize": 8.8, "baseline": "middle", "align": "left", "fontWeight": {"expr": "datum.k == 'study' || datum.k == 'note' ? 'normal' : 'bold'"}}, "encoding": {"x": {"datum": 1, "type": "quantitative"}, "y": {"field": "r", "type": "quantitative"}, "text": {"field": "name"}}},
            {"transform": [{"filter": {"field": "m1", "valid": true}}], "mark": {"type": "text", "fontSize": 8.8, "baseline": "middle", "align": "right"}, "encoding": {"x": {"datum": 2, "type": "quantitative"}, "y": {"field": "r", "type": "quantitative"}, "text": {"field": "m1", "type": "nominal"}}},
            {"transform": [{"filter": {"field": "sd1", "valid": true}}], "mark": {"type": "text", "fontSize": 8.8, "baseline": "middle", "align": "right"}, "encoding": {"x": {"datum": 3, "type": "quantitative"}, "y": {"field": "r", "type": "quantitative"}, "text": {"field": "sd1", "type": "nominal"}}},
            {"transform": [{"filter": {"field": "n1", "valid": true}}], "mark": {"type": "text", "fontSize": 8.8, "baseline": "middle", "align": "right", "fontWeight": {"expr": "datum.k == 'study' || datum.k == 'note' ? 'normal' : 'bold'"}}, "encoding": {"x": {"datum": 4, "type": "quantitative"}, "y": {"field": "r", "type": "quantitative"}, "text": {"field": "n1", "type": "nominal"}}},
            {"transform": [{"filter": {"field": "m2", "valid": true}}], "mark": {"type": "text", "fontSize": 8.8, "baseline": "middle", "align": "right"}, "encoding": {"x": {"datum": 5, "type": "quantitative"}, "y": {"field": "r", "type": "quantitative"}, "text": {"field": "m2", "type": "nominal"}}},
            {"transform": [{"filter": {"field": "sd2", "valid": true}}], "mark": {"type": "text", "fontSize": 8.8, "baseline": "middle", "align": "right"}, "encoding": {"x": {"datum": 6, "type": "quantitative"}, "y": {"field": "r", "type": "quantitative"}, "text": {"field": "sd2", "type": "nominal"}}},
            {"transform": [{"filter": {"field": "n2", "valid": true}}], "mark": {"type": "text", "fontSize": 8.8, "baseline": "middle", "align": "right", "fontWeight": {"expr": "datum.k == 'study' || datum.k == 'note' ? 'normal' : 'bold'"}}, "encoding": {"x": {"datum": 7, "type": "quantitative"}, "y": {"field": "r", "type": "quantitative"}, "text": {"field": "n2", "type": "nominal"}}},
            {"transform": [{"filter": {"field": "w", "valid": true}}], "mark": {"type": "text", "fontSize": 8.8, "baseline": "middle", "align": "right", "fontWeight": {"expr": "datum.k == 'study' || datum.k == 'note' ? 'normal' : 'bold'"}}, "encoding": {"x": {"datum": 8, "type": "quantitative"}, "y": {"field": "r", "type": "quantitative"}, "text": {"field": "w", "type": "quantitative", "format": ".1%"}}},
            {"transform": [{"filter": {"field": "ci", "valid": true}}], "mark": {"type": "text", "fontSize": 8.8, "baseline": "middle", "align": "right", "fontWeight": {"expr": "datum.k == 'study' || datum.k == 'note' ? 'normal' : 'bold'"}}, "encoding": {"x": {"datum": 9, "type": "quantitative"}, "y": {"field": "r", "type": "quantitative"}, "text": {"field": "ci"}}},
            {"data": {"name": "cap"}, "transform": [{"filter": "datum.p == 'e'"}], "mark": {"type": "text", "font": "Liberation Serif", "fontSize": 17.7, "fontWeight": "bold", "color": "#000", "align": "left", "baseline": "middle", "dx": -3}, "encoding": {"x": {"datum": 0, "type": "quantitative"}, "y": {"datum": 10.37, "type": "quantitative"}, "text": {"field": "t"}}}
          ]
        },
        {
          "layer": [
            {"data": {"name": "fh"}, "mark": {"type": "text", "fontSize": 8.8, "fontWeight": "bold", "align": "center", "baseline": "middle"}, "encoding": {"x": {"datum": 0, "type": "quantitative", "scale": {"domain": [-4.33, 4.33], "range": [442.1, 661.3], "zero": false, "nice": false}}, "y": {"field": "r", "type": "quantitative"}, "text": {"field": "t"}}},
            {"data": {"name": "one"}, "mark": {"type": "rule", "color": "#444"}, "encoding": {"x": {"datum": 0, "type": "quantitative"}, "y": {"datum": 1.35, "type": "quantitative"}, "y2": {"datum": 5.8}}},
            {"transform": [{"filter": "datum.k == 'study'"}], "mark": {"type": "rule", "color": "#111"}, "encoding": {"x": {"field": "lo", "type": "quantitative"}, "x2": {"field": "hi"}, "y": {"field": "r", "type": "quantitative"}}},
            {"transform": [{"filter": "datum.k == 'study'"}], "mark": {"type": "point", "shape": "square", "filled": true, "color": "#00c800", "opacity": 1}, "encoding": {"x": {"field": "smd", "type": "quantitative"}, "y": {"field": "r", "type": "quantitative"}, "size": {"field": "w", "type": "quantitative", "scale": {"domain": [0, 1], "range": [0, 124]}, "legend": null}}},
            {"transform": [{"filter": "datum.k == 'sub' || datum.k == 'total'"}, {"fold": ["lo", "smd", "hi"], "as": ["key", "xv"]}], "mark": {"type": "area", "orient": "vertical", "color": "#000", "opacity": 1, "yOffset": {"expr": "datum.key == 'smd' ? -5 : 0"}, "y2Offset": {"expr": "datum.key == 'smd' ? 5 : 0"}}, "encoding": {"x": {"field": "xv", "type": "quantitative"}, "y": {"field": "r", "type": "quantitative"}, "y2": {"field": "r"}, "detail": {"field": "r"}}},
            {"data": {"name": "one"}, "mark": {"type": "rule", "color": "#222"}, "encoding": {"x": {"datum": -4.33, "type": "quantitative"}, "x2": {"datum": 4.33}, "y": {"datum": 5.8, "type": "quantitative"}}},
            {"data": {"name": "ticks"}, "mark": {"type": "tick", "orient": "vertical", "color": "#222", "size": 7, "thickness": 1}, "encoding": {"x": {"field": "v", "type": "quantitative"}, "y": {"datum": 5.8, "type": "quantitative"}}},
            {"data": {"name": "ticks"}, "mark": {"type": "text", "fontSize": 8.8, "align": "center", "baseline": "middle"}, "encoding": {"x": {"field": "v", "type": "quantitative"}, "y": {"datum": 6.55, "type": "quantitative"}, "text": {"field": "v", "type": "nominal"}}},
            {"data": {"name": "fav"}, "mark": {"type": "text", "fontSize": 8.8, "baseline": "middle", "color": "#6b6b78", "align": {"expr": "datum.side == 'exp' ? 'right' : 'left'"}, "dx": {"expr": "datum.side == 'exp' ? -7 : 4"}}, "encoding": {"x": {"datum": 0, "type": "quantitative"}, "y": {"datum": 7.5, "type": "quantitative"}, "text": {"field": "t"}}}
          ]
        }
      ]
    }
  ]
}
